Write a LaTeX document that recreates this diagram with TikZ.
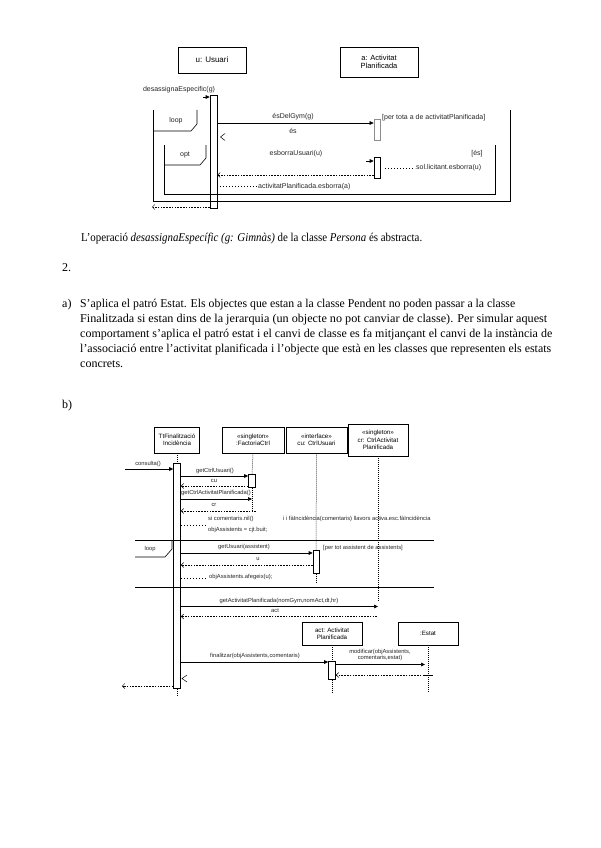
\documentclass[tikz,border=0pt]{standalone}
\usepackage{fontspec}
\usepackage{graphicx}
\setmainfont{Liberation Serif}
\newfontfamily\dsans{Liberation Sans}
\usetikzlibrary{arrows.meta}
\tikzset{
 obj/.style={draw, line width=0.6pt, align=center, inner sep=1pt},
 actbar/.style={draw, fill=white, line width=0.6pt, minimum width=7pt, inner sep=0pt},
 msg/.style={line width=0.6pt, -{Triangle[length=4pt,width=3.6pt]}},
 ret/.style={line width=0.5pt, dash pattern=on 1.6pt off 1.2pt, -{Straight Barb[length=2.5pt,width=5pt]}},
 life/.style={line width=0.5pt, dash pattern=on 1pt off 1pt},
 dotl/.style={line width=0.5pt, dash pattern=on 1pt off 2pt},
 lab/.style={inner sep=0pt, font=\dsans\fontsize{7}{8}\selectfont, text=black!85},
 labb/.style={inner sep=0pt, font=\dsans\fontsize{5.8}{6.8}\selectfont, text=black!85, align=left},
 frm/.style={line width=0.6pt},
 body/.style={inner sep=0pt, anchor=base west, font=\fontsize{12}{15}\selectfont},
}
\begin{document}
\begin{tikzpicture}[x=1pt,y=-1pt]
\useasboundingbox (0,0) rectangle (600,848);
\fill[white] (0,0) rectangle (600,848);

% ---------------- diagram 1 ----------------
\node[obj, minimum width=68pt, minimum height=26pt, font=\dsans\fontsize{8}{9}\selectfont] (u) at (212,60) {u: Usuari};
\node[obj, minimum width=78pt, minimum height=30pt, font=\dsans\fontsize{7.5}{8.5}\selectfont] (a) at (379,62) {a: Activitat\\Planificada};
\node[lab] (l0) at (179,90) {desassignaEspecific(g)};
\node[actbar, minimum height=113pt, anchor=north] (ubar) at (213.5,95) {};
\coordinate (d0) at (203,97);
\draw[msg] (d0) -- (ubar.west |- d0);

% loop frame
\draw[frm] (153,110) -- (153,201) -- (510,201) -- (510,110);
\draw[frm] (153,131) -- (191,131) -- (197,124) -- (197,110);
\node[lab] (lloop) at (176,121) {loop};
% opt frame
\draw[frm] (164,145) -- (164,194) -- (495,194) -- (495,145);
\draw[frm] (164,165) -- (200,165) -- (206,158) -- (206,145);
\node[lab] (lopt) at (185,155) {opt};

\node[draw=black!45, line width=0.7pt, minimum width=6pt, minimum height=21pt, inner sep=0pt, anchor=north] (abar1) at (377,119) {};
\coordinate (y1) at (0,123);
\draw[msg] (ubar.east |- y1) -- (abar1.west |- y1);
\node[lab] (l1) at (293,117) {ésDelGym(g)};
\node[lab, anchor=west] (g1) at (382,118) {[per tota a de activitatPlanificada]};
\node[lab] (l2) at (293,131) {és};
\draw[line width=0.5pt] (225,133.5) -- (220.5,137) -- (225,140.5);

\node[lab] (l3) at (296,154) {esborraUsuari(u)};
\node[lab] (g2) at (477,154) {[és]};
\node[actbar, minimum width=6pt, minimum height=21pt, anchor=north] (abar2) at (377,157) {};
\coordinate (y2) at (366,161);
\draw[msg] (y2) -- (abar2.west |- y2);
\coordinate (y3a) at (385,168);
\coordinate (y3b) at (415,168);
\draw[dotl] (y3a) -- (y3b);
\node[lab, anchor=west] (l4) at (416,168) {sol.licitant.esborra(u)};
\coordinate (y4) at (0,175);
\draw[ret] (abar2.west |- y4) -- (ubar.east |- y4);
\coordinate (y5b) at (257,186);
\draw[dotl] (ubar.east |- y5b) -- (y5b);
\node[lab, anchor=west] (l5) at (258,187) {activitatPlanificada.esborra(a)};
\coordinate (y6) at (152,207);
\draw[ret] (ubar.west |- y6) -- (y6);

% ---------------- text ----------------
\node[body] (t1) at (81,241) {\resizebox{341pt}{\height}{L’operació \textit{desassignaEspecífic (g: Gimnàs)} de la classe \textit{Persona} és abstracta.}};
\node[body] (t2) at (62,271) {2.};
\node[body] (ta) at (62,307) {a)};
\node[body] (p1) at (80,307) {\resizebox{435pt}{\height}{S’aplica el patró Estat. Els objectes que estan a la classe Pendent no poden passar a la classe}};
\node[body] (p2) at (80,322) {\resizebox{467pt}{\height}{Finalitzada si estan dins de la jerarquia (un objecte no pot canviar de classe). Per simular aquest}};
\node[body] (p3) at (80,337) {\resizebox{472pt}{\height}{comportament s’aplica el patró estat i el canvi de classe es fa mitjançant el canvi de la instància de}};
\node[body] (p4) at (80,352) {\resizebox{471pt}{\height}{l’associació entre l’activitat planificada i l’objecte que està en les classes que representen els estats}};
\node[body] (p5) at (80,367) {concrets.};
\node[body] (tb) at (62,408) {b)};

% ---------------- diagram 2 ----------------
\tikzset{obj2/.style={obj, font=\dsans\fontsize{6.2}{7.4}\selectfont, minimum height=26pt}}
\node[obj2, minimum width=45pt] (b1) at (177,440) {TtFinalització\\Incidència};
\node[obj2, minimum width=62pt] (b2) at (253,440) {«singleton»\\:FactoriaCtrl};
\node[obj2, minimum width=61pt] (b3) at (316.5,440) {«interface»\\cu: CtrlUsuari};
\node[obj2, minimum width=60pt, minimum height=32pt] (b4) at (378,440) {«singleton»\\cr: CtrlActivitat\\Planificada};

\node[actbar, minimum height=225pt, anchor=north] (mbar) at (177,463) {};
\draw[life] (b1.south) -- (mbar.north);
\coordinate (e1) at (177,695);
\draw[life] (mbar.south) -- (e1);

\node[actbar, minimum height=13pt, anchor=north] (bar2) at (252,474) {};
\draw[life] (b2.south) -- (bar2.north);
\coordinate (e2) at (252,511);
\draw[life] (bar2.south) -- (e2);

\node[actbar, minimum width=6pt, minimum height=23pt, anchor=north] (bar3) at (316,550) {};
\draw[life] (b3.south) -- (bar3.north);
\coordinate (e3) at (316,583);
\draw[life] (bar3.south) -- (e3);

\coordinate (e4) at (378,601);
\draw[life] (b4.south) -- (e4);

% consulta
\coordinate (c0) at (125,469);
\draw[msg] (c0) -- (mbar.west |- c0);
\node[labb] (k0) at (148,464) {consulta()};
% getCtrlUsuari
\coordinate (c1) at (0,476);
\draw[msg] (mbar.east |- c1) -- (bar2.west |- c1);
\node[labb] (k1) at (215,471) {getCtrlUsuari()};
\coordinate (c2) at (0,486);
\draw[ret] (bar2.west |- c2) -- (mbar.east |- c2);
\node[labb] (k2) at (214,480.5) {cu};
% getCtrlActivitatPlanificada
\coordinate (c3) at (0,499);
\draw[msg] (mbar.east |- c3) -- (e2 |- c3);
\node[labb] (k3) at (216,493) {getCtrlActivitatPlanificada()};
\coordinate (c4) at (256,511);
\draw[ret] (c4) -- (mbar.east |- c4);
\node[labb] (k4) at (214,505) {cr};
\coordinate (c5) at (205,525);
\draw[dotl] (mbar.east |- c5) -- (c5);
\node[labb, anchor=west] (k5) at (208,519) {si comentaris.nil()};
\node[labb, anchor=west] (k5b) at (283,519) {i i fàIncidència(comentaris) llavors activa.esc.fàIncidència};
\node[labb, anchor=west] (k6) at (208,529.5) {objAssistents = cjt.buit;};

% loop frame
\draw[frm] (135,540) -- (434,540);
\draw[frm] (135,587) -- (434,587);
\draw[frm] (135,557) -- (165,557) -- (172,549) -- (172,540);
\node[labb] (kl) at (150,549) {loop};
\coordinate (c6) at (0,553);
\draw[msg] (mbar.east |- c6) -- (bar3.west |- c6);
\node[labb] (k7) at (244,547) {getUsuari(assistent)};
\node[labb, anchor=west] (k8) at (323,548) {[per tot assistent de assistents]};
\coordinate (c7) at (0,565);
\draw[ret] (bar3.west |- c7) -- (mbar.east |- c7);
\node[labb] (k9) at (258,559) {u};
\coordinate (c8) at (205,578);
\draw[dotl] (mbar.east |- c8) -- (c8);
\node[labb, anchor=west] (k10) at (209,577) {objAssistents.afegeix(u);};

% getActivitatPlanificada
\coordinate (c9) at (0,606.5);
\draw[msg] (mbar.east |- c9) -- (e4 |- c9);
\node[labb] (k11) at (279,601) {getActivitatPlanificada(nomGym,nomAct,dt,hr)};
\coordinate (c10) at (377,616.5);
\draw[ret] (c10) -- (mbar.east |- c10);
\node[labb] (k12) at (275,611) {act};

% new objects
\node[obj2, minimum width=60pt, minimum height=23pt] (b5) at (332,633.5) {act: Activitat\\Planificada};
\node[obj2, minimum width=60pt, minimum height=23pt] (b6) at (428,633.5) {:Estat};
\node[actbar, minimum width=7pt, minimum height=18pt, anchor=north] (bar5) at (332,661) {};
\draw[life] (b5.south) -- (bar5.north);
\coordinate (e5) at (332,692);
\draw[life] (bar5.south) -- (e5);
\coordinate (e6) at (428,692);
\draw[life] (b6.south) -- (e6);

\coordinate (c11) at (0,662);
\draw[msg] (mbar.east |- c11) -- (bar5.west |- c11);
\node[labb] (k13) at (255,656) {finalitzar(objAssistents,comentaris)};
\coordinate (c12) at (425,664.5);
\draw[msg] (bar5.east |- c12) -- (c12);
\node[labb, align=center] (k14) at (380,655) {modificar(objAssistents,\\comentaris,estat)};
\coordinate (c13) at (427,675);
\draw[ret] (c13) -- (bar5.east |- c13);
\draw[line width=0.6pt] (423,675) -- (433,675);
\draw[line width=0.5pt] (187,675) -- (182,678.5) -- (187,682);
\coordinate (c14) at (122,686);
\draw[ret] (mbar.west |- c14) -- (c14);

\end{tikzpicture}
\end{document}
